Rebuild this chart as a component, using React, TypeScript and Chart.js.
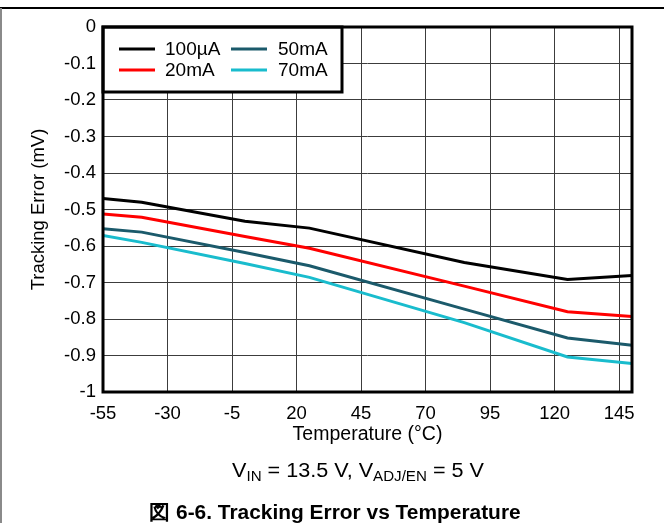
import React, { useEffect, useRef } from "react";
import { Chart, registerables } from "chart.js";

Chart.register(...registerables);

const temperatures = [-55, -40, 0, 25, 85, 125, 150];
const seriesNames = ["100µA", "20mA", "50mA", "70mA"];
const err100uA = [-0.47, -0.48, -0.532, -0.551, -0.645, -0.692, -0.681];
const err20mA = [-0.512, -0.521, -0.574, -0.606, -0.71, -0.78, -0.793];
const err50mA = [-0.553, -0.562, -0.618, -0.654, -0.773, -0.852, -0.872];
const err70mA = [-0.571, -0.59, -0.648, -0.686, -0.81, -0.904, -0.922];
const xTickValues = [-55, -30, -5, 20, 45, 70, 95, 120, 145];
const yTickValues = [0, -0.1, -0.2, -0.3, -0.4, -0.5, -0.6, -0.7, -0.8, -0.9, -1];
const seriesColors = ["#000000", "#ff0000", "#1b5a6b", "#19bccd"];

const FONT = "'Liberation Sans', Arial, sans-serif";

export default function App() {
  const canvasRef = useRef<HTMLCanvasElement | null>(null);

  useEffect(() => {
    const canvas = canvasRef.current;
    if (!canvas) return;
    const allSeries = [err100uA, err20mA, err50mA, err70mA];

    const framePlugin = {
      id: "frame",
      beforeDraw(chart: any) {
        const ctx = chart.ctx;
        ctx.save();
        ctx.fillStyle = "#ffffff";
        ctx.fillRect(0, 0, chart.width, chart.height);
        ctx.fillStyle = "#000000";
        ctx.fillRect(0, 7, chart.width, 2);
        ctx.fillStyle = "#8a8a8a";
        ctx.fillRect(0, 8, 2, chart.height - 8);
        ctx.restore();
      },
      afterDatasetsDraw(chart: any) {
        const ctx = chart.ctx;
        const a = chart.chartArea;
        ctx.save();
        const bx = a.left, by = a.top, bw = 239, bh = 65;
        ctx.fillStyle = "#ffffff";
        ctx.fillRect(bx, by, bw, bh);
        ctx.strokeStyle = "#000000";
        ctx.lineWidth = 3;
        ctx.strokeRect(bx, by, bw, bh);
        ctx.font = `19px ${FONT}`;
        ctx.textBaseline = "middle";
        ctx.textAlign = "left";
        const cols = [
          { lx: 119, tx: 165 },
          { lx: 231, tx: 278 },
        ];
        const rows = [49, 70];
        seriesNames.forEach((name, si) => {
          const c = cols[Math.floor(si / 2)];
          const y = rows[si % 2];
          ctx.strokeStyle = seriesColors[si];
          ctx.lineWidth = 3;
          ctx.beginPath();
          ctx.moveTo(c.lx, y);
          ctx.lineTo(c.lx + 36, y);
          ctx.stroke();
          ctx.fillStyle = "#000000";
          ctx.fillText(name, c.tx, y + 1);
        });
        ctx.restore();
      },
      afterDraw(chart: any) {
        const ctx = chart.ctx;
        const a = chart.chartArea;
        ctx.save();
        ctx.strokeStyle = "#000000";
        ctx.lineWidth = 3;
        ctx.strokeRect(a.left, a.top, a.right - a.left, a.bottom - a.top);
        ctx.restore();
      },
    };

    const chart = new Chart(canvas, {
      type: "line",
      data: {
        datasets: allSeries.map((vals, si) => ({
          label: seriesNames[si],
          data: temperatures.map((t, i) => ({ x: t, y: vals[i] })),
          borderColor: seriesColors[si],
          backgroundColor: seriesColors[si],
          borderWidth: 3,
          pointRadius: 0,
          tension: 0,
          fill: false,
        })),
      },
      options: {
        animation: false,
        responsive: false,
        maintainAspectRatio: false,
        layout: { padding: { left: 0, top: 27, right: 32, bottom: 73 } },
        plugins: {
          legend: { display: false },
          tooltip: { enabled: false },
        },
        scales: {
          x: {
            type: "linear",
            min: -55,
            max: 150,
            afterFit(scale: any) {
              scale.height = 58;
            },
            afterBuildTicks(scale: any) {
              scale.ticks = xTickValues.map((v) => ({ value: v }));
            },
            grid: { color: "#3c3c3c", lineWidth: 1, drawTicks: false },
            border: { display: false },
            ticks: {
              color: "#000",
              padding: 11,
              maxRotation: 0,
              font: { family: FONT, size: 18.5 },
              callback: (v: any) => String(v),
            },
            title: {
              display: true,
              text: "Temperature (°C)",
              color: "#000",
              font: { family: FONT, size: 19.5 },
              padding: { top: 0, bottom: 4 },
            },
          },
          y: {
            type: "linear",
            min: -1,
            max: 0,
            afterFit(scale: any) {
              scale.width = 103;
            },
            afterBuildTicks(scale: any) {
              scale.ticks = yTickValues.map((v) => ({ value: v }));
            },
            grid: { color: "#3c3c3c", lineWidth: 1, drawTicks: false },
            border: { display: false },
            ticks: {
              color: "#000",
              padding: 7,
              font: { family: FONT, size: 18.5 },
              callback: (v: any) => String(Math.round(Number(v) * 10) / 10),
            },
            title: {
              display: true,
              text: "Tracking Error (mV)",
              color: "#000",
              font: { family: FONT, size: 18.5 },
              padding: { top: 28, bottom: 0 },
            },
          },
        },
      },
      plugins: [framePlugin],
    });

    return () => chart.destroy();
  }, []);

  const subStyle: React.CSSProperties = { fontSize: 14, lineHeight: 0, verticalAlign: "-4px" };

  return (
    <div
      style={{
        position: "fixed",
        left: 0,
        top: 0,
        width: 664,
        height: 523,
        background: "#fff",
        fontFamily: FONT,
        color: "#000",
        overflow: "hidden",
      }}
    >
      <canvas ref={canvasRef} width={664} height={523} style={{ display: "block" }} />
      <div
        style={{
          position: "absolute",
          left: 58,
          width: 600,
          top: 458,
          textAlign: "center",
          fontSize: 20,
          lineHeight: "24px",
          whiteSpace: "nowrap",
          transform: "scaleX(1.08)",
        }}
      >
        V<sub style={subStyle}>IN</sub> = 13.5 V, V<sub style={subStyle}>ADJ/EN</sub> = 5 V
      </div>
      <div
        style={{
          position: "absolute",
          left: 35,
          width: 600,
          top: 500,
          textAlign: "center",
          fontSize: 20,
          fontWeight: "bold",
          lineHeight: "24px",
          whiteSpace: "nowrap",
          transform: "scaleX(1.045)",
        }}
      >
        図 6-6. Tracking Error vs Temperature
      </div>
    </div>
  );
}
